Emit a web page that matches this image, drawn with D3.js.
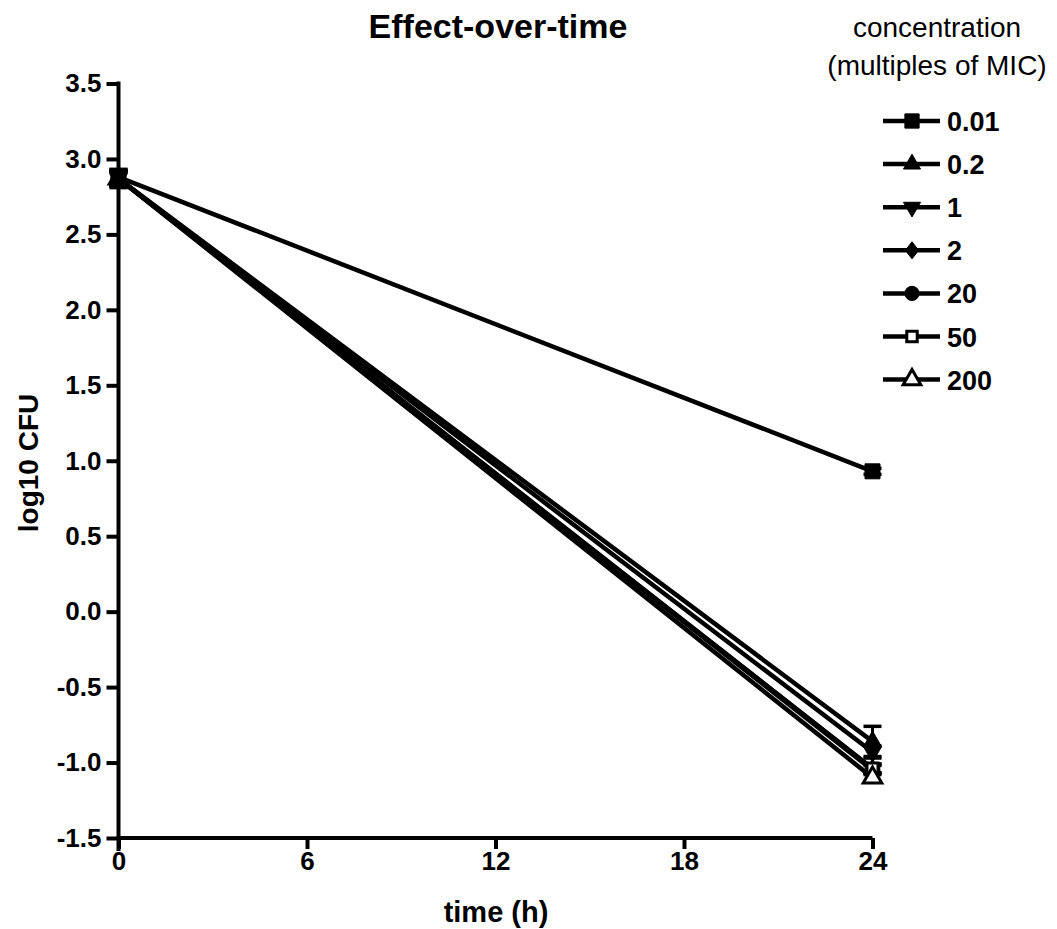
<!DOCTYPE html>
<html>
<head>
<meta charset="utf-8">
<script src="https://cdn.jsdelivr.net/npm/d3@7"></script>
<style>
  body { margin: 0; background: #fff; }
  svg { display: block; font-family: Arial, "Liberation Sans", sans-serif; }
  .axis path, .axis line { stroke: #000; stroke-width: 4; }
  .axis text { font-size: 26px; font-weight: bold; fill: #000; font-family: Arial, "Liberation Sans", sans-serif; }
</style>
</head>
<body>
<svg id="chart" width="1057" height="929"></svg>
<script>
// ── data ──
const times = [0, 24];
const concLabels = ['0.01', '0.2', '1', '2', '20', '50', '200'];
const concShapes = ['square', 'triangle', 'triangleDown', 'diamond', 'circle', 'square', 'triangle'];
const concFilled = [true, true, true, true, true, false, false];
const meanLog = [
  [2.88, 0.93],
  [2.87, -0.86],
  [2.87, -0.93],
  [2.87, -1.04],
  [2.87, -1.05],
  [2.87, -1.04],
  [2.87, -1.10]
];
const errLog = [
  [0.05, 0.02],
  [0.06, 0.10],
  [0.05, 0.04],
  [0.05, 0.03],
  [0.05, 0.03],
  [0.05, 0.03],
  [0.05, 0.03]
];
const xTicks = [0, 6, 12, 18, 24];
const yTicks = [-1.5, -1.0, -0.5, 0.0, 0.5, 1.0, 1.5, 2.0, 2.5, 3.0, 3.5];

// ── layout ──
const margin = { top: 83.5, left: 118.5, right: 184.5, bottom: 91 };
const svg = d3.select('#chart');
const width = +svg.attr('width'), height = +svg.attr('height');
const W = width - margin.left - margin.right;
const H = height - margin.top - margin.bottom;

const x = d3.scaleLinear().domain([0, 24]).range([0, W]);
const y = d3.scaleLinear().domain([-1.5, 3.5]).range([H, 0]);

const g = svg.append('g').attr('transform', `translate(${margin.left},${margin.top})`);

// marker shapes (GraphPad-like)
const symbolSizes = { square: 225, triangle: 140, triangleDown: 140, circle: 177 };
function markerPath(shape, filled, k) {
  if (shape === 'diamond') {
    const hw = 7 * k, hh = 9 * k;
    return `M0,${-hh}L${hw},0L0,${hh}L${-hw},0Z`;
  }
  let size = symbolSizes[shape] * k * k;
  if (!filled) size = shape === 'square' ? 121 * k * k : 150 * k * k;
  const type = shape === 'square' ? d3.symbolSquare
    : shape === 'circle' ? d3.symbolCircle : d3.symbolTriangle;
  return d3.symbol().type(type).size(size)();
}
function drawMarker(sel, shape, filled, cx, cy, k) {
  sel.append('path')
    .attr('d', markerPath(shape, filled, k))
    .attr('transform', `translate(${cx},${cy})${shape === 'triangleDown' ? ' rotate(180)' : ''}`)
    .attr('fill', filled ? '#000' : '#fff')
    .attr('stroke', '#000')
    .attr('stroke-width', filled ? 1 : 3);
}

// axes
g.append('g').attr('class', 'axis')
  .attr('transform', `translate(0,${H})`)
  .call(d3.axisBottom(x).tickValues(xTicks).tickSize(11).tickSizeOuter(0).tickPadding(3))
  .call(a => a.select('.domain').attr('d', `M0,0H${W}`));

g.append('g').attr('class', 'axis')
  .call(d3.axisLeft(y).tickValues(yTicks).tickSize(12).tickSizeOuter(0).tickPadding(5))
  .call(a => a.select('.domain').attr('d', `M0,${H + 13}V-2`))
  .call(a => a.selectAll('.tick text').text(d => d3.format('.1f')(d).replace('\u2212', '-')));

// series lines + error bars
const order = d3.range(concLabels.length);
order.slice().reverse().forEach(i => {
  const pts = times.map((t, j) => ({ t, v: meanLog[i][j], e: errLog[i][j] }));
  g.append('path')
    .datum(pts)
    .attr('fill', 'none')
    .attr('stroke', '#000')
    .attr('stroke-width', 4.5)
    .attr('d', d3.line().x(d => x(d.t)).y(d => y(d.v)));

  pts.forEach(d => {
    g.append('line')
      .attr('x1', x(d.t)).attr('x2', x(d.t))
      .attr('y1', y(d.v + d.e)).attr('y2', y(d.v - d.e))
      .attr('stroke', '#000').attr('stroke-width', 3);
    [d.v + d.e, d.v - d.e].forEach(v => {
      g.append('line')
        .attr('x1', x(d.t) - 9).attr('x2', x(d.t) + 9)
        .attr('y1', y(v)).attr('y2', y(v))
        .attr('stroke', '#000').attr('stroke-width', 3.5);
    });
  });
});

// markers on top: at t=0 the first series sits on top, at t=24 the last ones
times.forEach((t, j) => {
  const seq = j === 0 ? order.slice().reverse() : order;
  seq.forEach(i => drawMarker(g, concShapes[i], concFilled[i], x(t), y(meanLog[i][j]), 1));
});

// title and axis labels
svg.append('text')
  .attr('x', 498).attr('y', 38)
  .attr('text-anchor', 'middle')
  .attr('font-size', 34).attr('font-weight', 'bold')
  .text('Effect-over-time');

svg.append('text')
  .attr('x', 496).attr('y', 922)
  .attr('text-anchor', 'middle')
  .attr('font-size', 29).attr('font-weight', 'bold')
  .text('time (h)');

svg.append('text')
  .attr('transform', `translate(38,463) rotate(-90)`)
  .attr('text-anchor', 'middle')
  .attr('font-size', 28).attr('font-weight', 'bold')
  .text('log10 CFU');

// legend
const legend = svg.append('g');
legend.append('text')
  .attr('x', 937).attr('y', 37)
  .attr('text-anchor', 'middle')
  .attr('font-size', 28)
  .text('concentration');
legend.append('text')
  .attr('x', 937).attr('y', 75)
  .attr('text-anchor', 'middle')
  .attr('font-size', 28)
  .text('(multiples of MIC)');

concLabels.forEach((lab, i) => {
  const ly = 121 + i * 43.1;
  legend.append('line')
    .attr('x1', 883).attr('x2', 940)
    .attr('y1', ly).attr('y2', ly)
    .attr('stroke', '#000').attr('stroke-width', 4.5);
  drawMarker(legend, concShapes[i], concFilled[i], 912, ly, 0.95);
  legend.append('text')
    .attr('x', 947).attr('y', ly + 10)
    .attr('font-size', 27).attr('font-weight', 'bold')
    .text(lab);
});
</script>
</body>
</html>
